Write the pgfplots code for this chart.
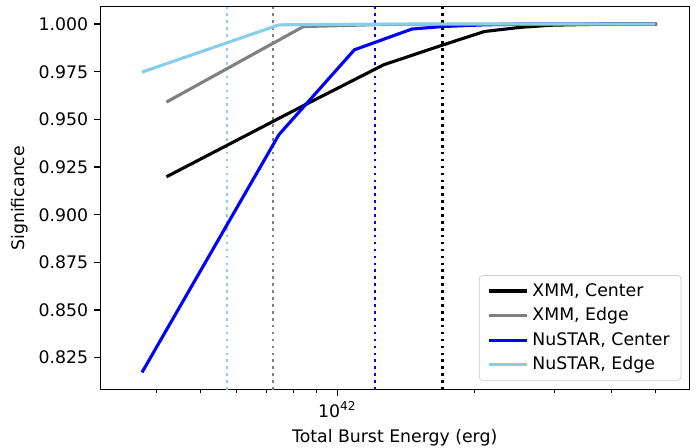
\documentclass[border=0pt]{standalone}
\usepackage{fontspec}
\setmainfont{DejaVu Sans}
\usepackage{pgfplots}
\pgfplotsset{compat=1.18}
\usepackage{xcolor}

\definecolor{mplgray}{HTML}{808080}
\definecolor{skyblue}{HTML}{87CEEB}
\definecolor{legedge}{HTML}{CCCCCC}

\begin{document}
\begin{tikzpicture}
\begin{axis}[
  name=ax, scale only axis,
  width=340.5pt, height=221.4pt,
  xmode=log, log basis x=10,
  xmin=3.01e41, xmax=5.94e42,
  ymin=0.8082, ymax=1.0091,
  xtick={1e42}, xticklabels={10\textsuperscript{42}},
  minor xtick={4e41,5e41,6e41,7e41,8e41,9e41,2e42,3e42,4e42,5e42},
  ytick={0.825,0.85,0.875,0.9,0.925,0.95,0.975,1.0},
  yticklabels={0.825,0.850,0.875,0.900,0.925,0.950,0.975,1.000},
  tick align=outside, tick pos=left,
  major tick length=3.5pt, minor tick length=2pt,
  every major tick/.style={black, line width=0.8pt},
  every minor tick/.style={black, line width=0.6pt},
  axis line style={line width=0.8pt},
  font=\fontsize{10}{12}\selectfont,
  xlabel={Total Burst Energy (erg)}, ylabel={Significance},
  ylabel style={xshift=0pt, yshift=-1pt},
  legend cell align=left,
  legend style={at={(1,0)}, anchor=south east, xshift=-4.6pt, yshift=5.2pt,
    draw=legedge, fill=white, fill opacity=0.8, text opacity=1,
    rounded corners=2pt, row sep=1.2pt, inner xsep=4.5pt, inner ysep=2.5pt,
    font=\fontsize{10}{12}\selectfont},
  legend image code/.code={\draw[#1] (0pt,0pt) -- (22.5pt,0pt);},
]
% threshold markers
\addplot[forget plot, skyblue, line width=1.3pt, dash pattern=on 1.5pt off 2.5pt]
  coordinates {(5.72e41,0.8082) (5.72e41,1.0091)};
\addplot[forget plot, mplgray, line width=1.3pt, dash pattern=on 1.5pt off 2.5pt]
  coordinates {(7.21e41,0.8082) (7.21e41,1.0091)};
\addplot[forget plot, blue, line width=1.3pt, dash pattern=on 1.5pt off 2.5pt]
  coordinates {(1.208e42,0.8082) (1.208e42,1.0091)};
\addplot[forget plot, black, line width=1.3pt, dash pattern=on 1.5pt off 2.5pt]
  coordinates {(1.704e42,0.8082) (1.704e42,1.0091)};

\addplot[black, line width=1.8pt] coordinates {
  (4.21e41,0.9199) (8.42e41,0.9572) (1.263e42,0.9786) (1.684e42,0.9886)
  (2.105e42,0.9961) (2.526e42,0.9983) (2.947e42,0.9994) (3.368e42,0.9997)
  (3.789e42,0.9999) (4.21e42,1.0) (4.631e42,1.0) (5.052e42,1.0)
};
\addlegendentry{XMM, Center}
\addplot[mplgray, line width=1.8pt] coordinates {
  (4.21e41,0.9591) (8.42e41,0.9987) (1.263e42,0.9998) (1.684e42,1.0)
  (2.105e42,1.0) (2.526e42,1.0) (2.947e42,1.0) (3.368e42,1.0)
  (3.789e42,1.0) (4.21e42,1.0) (4.631e42,1.0) (5.052e42,1.0)
};
\addlegendentry{XMM, Edge}
\addplot[blue, line width=1.8pt] coordinates {
  (3.72e41,0.8173) (7.44e41,0.9420) (1.09e42,0.9865) (1.459e42,0.9974)
  (1.70e42,0.9987) (2.10e42,0.9996) (2.60e42,1.0) (3.40e42,1.0)
  (4.20e42,1.0) (5.0e42,1.0)
};
\addlegendentry{NuSTAR, Center}
\addplot[skyblue, line width=1.8pt] coordinates {
  (3.72e41,0.9748) (7.44e41,0.9996) (1.09e42,0.9999) (1.459e42,1.0)
  (2.10e42,1.0) (2.60e42,1.0) (3.40e42,1.0) (4.20e42,1.0) (5.0e42,1.0)
};
\addlegendentry{NuSTAR, Edge}
\end{axis}
\pgfresetboundingbox
\path[use as bounding box] ([xshift=-57.8pt,yshift=-33.5pt]ax.south west)
  rectangle ([xshift=5.8pt,yshift=3.9pt]ax.north east);
\end{tikzpicture}
\end{document}
